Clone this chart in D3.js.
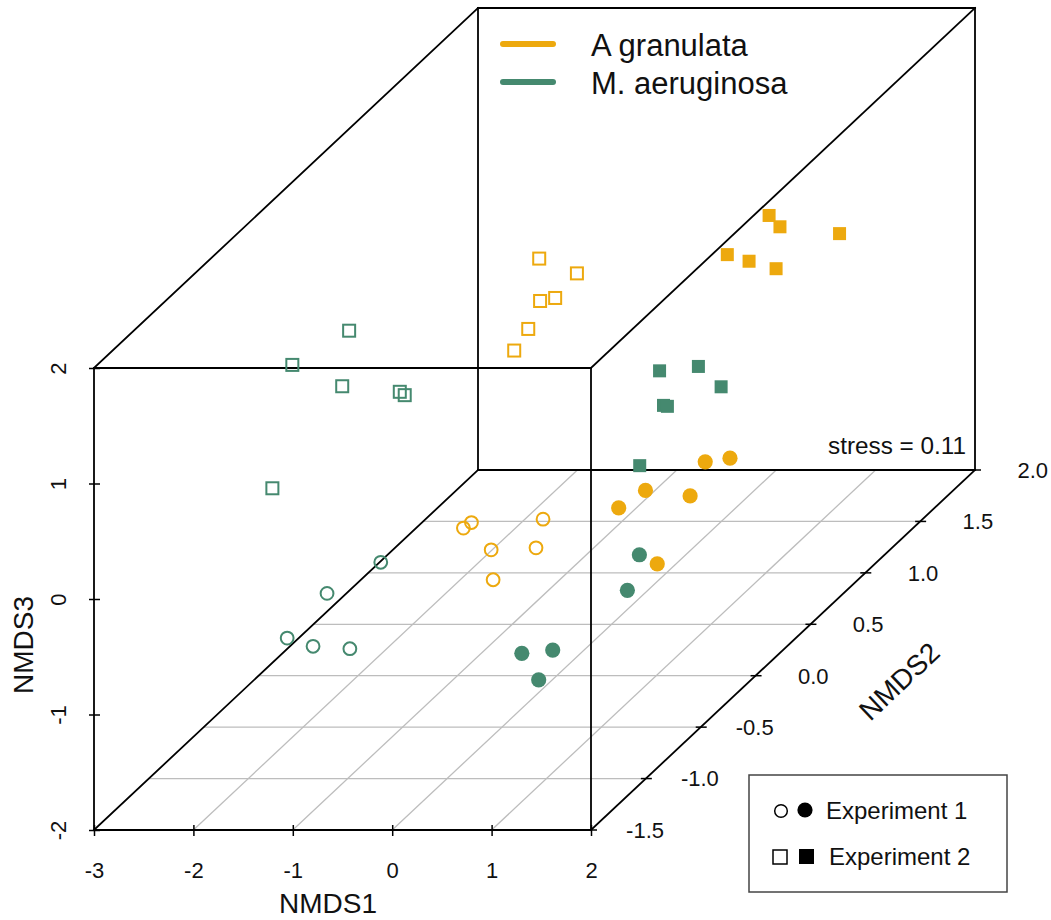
<!DOCTYPE html>
<html>
<head>
<meta charset="utf-8">
<script src="https://cdn.jsdelivr.net/npm/d3@7"></script>
<style>
  body { margin: 0; background: #fff; }
  svg { display: block; }
  text { font-family: "Liberation Sans", Arial, Helvetica, sans-serif; fill: #111; }
</style>
</head>
<body>
<svg id="chart" width="1051" height="920"></svg>
<script>
// NMDS ordination scores, one array per group: [NMDS1, NMDS2, NMDS3]
const agExp1Open = [[-1.16, 0.2, -0.90], [-1.30, 0.4, -1.03], [-0.69, 0.5, -1.09], [-0.66, 0.0, -0.91], [-0.54, 0.3, -1.16], [-0.53, -0.1, -1.08]];
const agExp1Filled = [[0.50, 0.9, -0.95], [0.97, 0.7, -0.74], [0.23, 0.6, -0.93], [0.90, 0.4, -0.80], [-0.26, 0.8, -1.26], [0.79, 0.2, -1.21]];
const agExp2Open = [[-1.17, 0.9, 0.81], [-0.57, 0.7, 0.86], [-1.12, 1.0, 0.38], [-0.83, 0.6, 0.71], [-1.17, 0.8, 0.29], [-0.98, 0.5, 0.37]];
const agExp2Filled = [[0.37, 1.6, 0.56], [0.70, 1.4, 0.64], [1.41, 1.3, 0.67], [0.06, 1.5, 0.31], [0.61, 1.2, 0.52], [0.33, 1.7, 0.01]];
const maExp1Open = [[-1.55, -0.2, -0.84], [-1.98, -0.3, -1.02], [-2.05, -0.6, -1.14], [-1.90, -0.5, -1.30], [-1.64, -0.4, -1.41]];
const maExp1Filled = [[0.50, 0.3, -1.22], [0.60, 0.1, -1.35], [0.09, -0.4, -1.45], [0.18, -0.2, -1.60], [0.37, -0.5, -1.59]];
const maExp2Open = [[-2.42, 0.3, 0.72], [-2.55, -0.1, 0.78], [-2.60, 0.4, 0.15], [-1.80, 0.2, 0.28], [-1.64, 0.1, 0.34], [-2.53, -0.3, -0.11]];
const maExp2Filled = [[-0.18, 1.1, -0.34], [-0.01, 1.3, -0.48], [0.66, 0.9, -0.30], [-0.03, 1.0, -0.55], [0.23, 0.8, -0.38], [-0.49, 1.2, -1.25]];

const species = ["A granulata", "M. aeruginosa"];
const experiments = ["Experiment 1", "Experiment 2"];
const speciesColors = ["#EDA90E", "#45896F"];
const xTicks = [-3, -2, -1, 0, 1, 2];
const yTicks = [-1.5, -1.0, -0.5, 0.0, 0.5, 1.0, 1.5, 2.0];
const zTicks = [-2, -1, 0, 1, 2];
const yGrid = [-1.0, -0.5, 0.0, 0.5, 1.0, 1.5];
const xGrid = [-2, -1, 0, 1];
const stressValue = 0.11;

const series = [
  { pts: agExp2Open, sp: 0, exp: 1, filled: false },
  { pts: maExp2Open, sp: 1, exp: 1, filled: false },
  { pts: agExp2Filled, sp: 0, exp: 1, filled: true },
  { pts: maExp2Filled, sp: 1, exp: 1, filled: true },
  { pts: agExp1Open, sp: 0, exp: 0, filled: false },
  { pts: maExp1Open, sp: 1, exp: 0, filled: false },
  { pts: agExp1Filled, sp: 0, exp: 0, filled: true },
  { pts: maExp1Filled, sp: 1, exp: 0, filled: true }
];

const svg = d3.select("#chart");

// oblique projection: NMDS1 horizontal, NMDS3 vertical, NMDS2 receding
const sx = d3.scaleLinear().domain([-3, 2]).range([94, 591]);
const sz = d3.scaleLinear().domain([-2, 2]).range([830, 368]);
const depthX = d3.scaleLinear().domain([-1.5, 2]).range([0, 384]);
const depthY = d3.scaleLinear().domain([-1.5, 2]).range([0, -360]);
const proj = (x, y, z) => [sx(x) + depthX(y), sz(z) + depthY(y)];

const line = (g, a, b, stroke, w) => g.append("line")
  .attr("x1", a[0]).attr("y1", a[1]).attr("x2", b[0]).attr("y2", b[1])
  .attr("stroke", stroke).attr("stroke-width", w);

// floor grid
const grid = svg.append("g");
yGrid.forEach(y => line(grid, proj(-3, y, -2), proj(2, y, -2), "#bdbdbd", 1.3));
xGrid.forEach(x => line(grid, proj(x, -1.5, -2), proj(x, 2, -2), "#bdbdbd", 1.3));

// box
const box = svg.append("g").attr("stroke-linecap", "square");
const xs = [-3, 2], zs = [-2, 2];
[-1.5, 2].forEach(y => {
  line(box, proj(-3, y, -2), proj(2, y, -2), "#000", 1.8);
  line(box, proj(-3, y, 2), proj(2, y, 2), "#000", 1.8);
  line(box, proj(-3, y, -2), proj(-3, y, 2), "#000", 1.8);
  line(box, proj(2, y, -2), proj(2, y, 2), "#000", 1.8);
});
xs.forEach(x => zs.forEach(z => line(box, proj(x, -1.5, z), proj(x, 2, z), "#000", 1.8)));

// NMDS1 axis
const xAxis = svg.append("g")
  .attr("transform", `translate(0,${sz(-2) - 5})`)
  .call(d3.axisBottom(sx).tickValues(xTicks).tickSizeInner(11).tickSizeOuter(0).tickPadding(26)
    .tickFormat(d => String(d)));
xAxis.select(".domain").remove();
xAxis.selectAll("line").attr("stroke", "#000").attr("stroke-width", 1.5);
xAxis.selectAll("text").style("font-size", "22px").attr("fill", "#111")
  .style("font-family", "'Liberation Sans', Arial, sans-serif");

// NMDS3 axis
const zAxis = svg.append("g")
  .attr("transform", `translate(${sx(-3) + 6},0)`)
  .call(d3.axisLeft(sz).tickValues(zTicks).tickSizeInner(11).tickSizeOuter(0).tickFormat(d => String(d)));
zAxis.select(".domain").remove();
zAxis.selectAll("line").attr("stroke", "#000").attr("stroke-width", 1.5);
zAxis.selectAll("text")
  .attr("x", null).attr("dy", null)
  .attr("text-anchor", "middle")
  .attr("transform", "translate(-34,0) rotate(-90)")
  .style("font-size", "22px").attr("fill", "#111")
  .style("font-family", "'Liberation Sans', Arial, sans-serif");

// NMDS2 axis along the floor's right edge
const yAxis = svg.append("g");
yTicks.forEach(t => {
  const p = proj(2, t, -2);
  line(yAxis, [p[0] - 5, p[1]], [p[0] + 6, p[1]], "#000", 1.5);
  yAxis.append("text")
    .attr("x", p[0] + 73).attr("y", p[1]).attr("dy", "0.36em")
    .attr("text-anchor", "end").style("font-size", "22px")
    .text(t.toFixed(1));
});

// axis titles
svg.append("text").attr("x", 328).attr("y", 913).attr("text-anchor", "middle")
  .style("font-size", "28px").text("NMDS1");
svg.append("text").attr("transform", "translate(33,645) rotate(-90)").attr("text-anchor", "middle")
  .style("font-size", "28px").text("NMDS3");
svg.append("text").attr("transform", "translate(899,681) rotate(-43.2)").attr("text-anchor", "middle")
  .attr("dy", "0.36em").style("font-size", "28px").text("NMDS2");

// stress annotation
svg.append("text").attr("x", 966).attr("y", 454).attr("text-anchor", "end")
  .style("font-size", "24.3px").text(`stress = ${stressValue.toFixed(2)}`);

// points
const symbols = svg.append("g");
series.forEach(s => {
  const col = speciesColors[s.sp];
  const sel = symbols.selectAll(null).data(s.pts).enter();
  if (s.exp === 0) {
    sel.append("circle")
      .attr("cx", d => proj(d[0], d[1], d[2])[0])
      .attr("cy", d => proj(d[0], d[1], d[2])[1])
      .attr("r", s.filled ? 7.6 : 6.4)
      .attr("fill", s.filled ? col : "none")
      .attr("stroke", s.filled ? "none" : col)
      .attr("stroke-width", 2);
  } else {
    const side = s.filled ? 13 : 12;
    sel.append("rect")
      .attr("x", d => proj(d[0], d[1], d[2])[0] - side / 2)
      .attr("y", d => proj(d[0], d[1], d[2])[1] - side / 2)
      .attr("width", side).attr("height", side)
      .attr("fill", s.filled ? col : "none")
      .attr("stroke", s.filled ? "none" : col)
      .attr("stroke-width", 2);
  }
});

// species legend
const leg1 = svg.append("g");
species.forEach((name, i) => {
  const y = 44 + i * 38;
  leg1.append("line").attr("x1", 503).attr("x2", 553).attr("y1", y).attr("y2", y)
    .attr("stroke", speciesColors[i]).attr("stroke-width", 6).attr("stroke-linecap", "round");
  leg1.append("text").attr("x", 591).attr("y", y + 12).style("font-size", "31px").text(name);
});

// experiment legend
const leg2 = svg.append("g");
leg2.append("rect").attr("x", 749).attr("y", 775).attr("width", 258).attr("height", 117)
  .attr("fill", "none").attr("stroke", "#444").attr("stroke-width", 1.5);
experiments.forEach((name, i) => {
  const cy = 811 + i * 46;
  if (i === 0) {
    leg2.append("circle").attr("cx", 781).attr("cy", cy).attr("r", 6.3)
      .attr("fill", "none").attr("stroke", "#000").attr("stroke-width", 1.5);
    leg2.append("circle").attr("cx", 805).attr("cy", cy - 1).attr("r", 7.6).attr("fill", "#000");
  } else {
    leg2.append("rect").attr("x", 773).attr("y", cy - 7).attr("width", 14).attr("height", 14)
      .attr("fill", "none").attr("stroke", "#000").attr("stroke-width", 1.5);
    leg2.append("rect").attr("x", 799).attr("y", cy - 8).attr("width", 15).attr("height", 15).attr("fill", "#000");
  }
  leg2.append("text").attr("x", i === 0 ? 826 : 829).attr("y", cy + 8).style("font-size", "24px").text(name);
});
</script>
</body>
</html>
